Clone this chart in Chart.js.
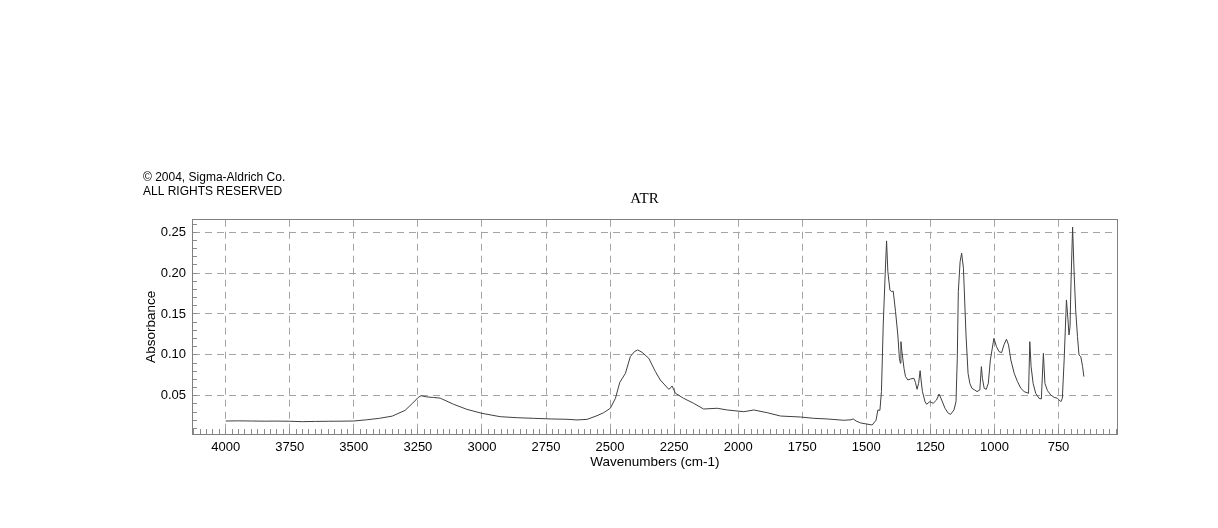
<!DOCTYPE html>
<html>
<head>
<meta charset="utf-8">
<title>ATR spectrum</title>
<script src="https://cdn.jsdelivr.net/npm/chart.js@4/dist/chart.umd.min.js"></script>
<style>
  html, body { margin: 0; padding: 0; background: #fff; }
  canvas { display: block; }
</style>
</head>
<body>
<canvas id="spec" width="1218" height="528"></canvas>
<script>
// spectrum (cm-1 / absorbance)
const wavenumbers = [
  4000, 3950, 3900, 3850, 3800, 3750, 3700, 3650, 3600, 3550, 3500, 3450, 3400, 3350, 3300, 3270,
  3250, 3238, 3215, 3189, 3163, 3111, 3059, 3000, 2929, 2860, 2798, 2730, 2668, 2629, 2590, 2551,
  2525, 2499, 2479, 2462, 2440, 2421, 2405, 2392, 2375, 2349, 2323, 2304, 2271, 2262, 2258, 2245,
  2213, 2174, 2135, 2082, 2043, 1978, 1939, 1887, 1835, 1757, 1705, 1653, 1588, 1560, 1551, 1540,
  1522, 1477, 1462, 1455, 1447, 1441, 1434, 1425, 1421, 1416, 1408, 1402, 1395, 1386, 1377, 1371,
  1367, 1365, 1361, 1353, 1347, 1338, 1327, 1314, 1308, 1302, 1296, 1290, 1286, 1281, 1271, 1265,
  1252, 1239, 1226, 1216, 1206, 1193, 1180, 1171, 1158, 1150, 1145, 1141, 1134, 1128, 1121, 1111,
  1103, 1096, 1088, 1077, 1068, 1057, 1051, 1047, 1040, 1032, 1024, 1016, 1002, 992, 982, 972,
  963, 953, 945, 936, 923, 910, 897, 884, 867, 862, 857, 849, 839, 826, 817, 809,
  803, 793, 780, 767, 754, 741, 735, 728, 719, 713, 709, 705, 701, 695, 689, 683,
  676, 670, 663, 656, 651
];
const absorbance = [
  0.0190, 0.0192, 0.0190, 0.0188, 0.0189, 0.0187, 0.0182, 0.0185, 0.0187, 0.0188, 0.0190, 0.0205, 0.0223, 0.0250, 0.0320, 0.0410,
  0.0475, 0.0500, 0.0485, 0.0478, 0.0470, 0.0395, 0.0333, 0.0284, 0.0243, 0.0230, 0.0223, 0.0215, 0.0211, 0.0203, 0.0210, 0.0255,
  0.0292, 0.0346, 0.0468, 0.0664, 0.0774, 0.0978, 0.1039, 0.1060, 0.1031, 0.0958, 0.0794, 0.0692, 0.0578, 0.0600, 0.0619, 0.0530,
  0.0468, 0.0407, 0.0337, 0.0346, 0.0325, 0.0304, 0.0325, 0.0292, 0.0251, 0.0239, 0.0223, 0.0215, 0.0199, 0.0205, 0.0215, 0.0190,
  0.0166, 0.0141, 0.0200, 0.0325, 0.0320, 0.0550, 0.1366, 0.2100, 0.2395, 0.2019, 0.1794, 0.1774, 0.1780, 0.1529, 0.1243, 0.0958,
  0.0897, 0.1161, 0.1039, 0.0835, 0.0733, 0.0692, 0.0705, 0.0713, 0.0660, 0.0578, 0.0650, 0.0806, 0.0680, 0.0550, 0.0427, 0.0395,
  0.0427, 0.0407, 0.0447, 0.0520, 0.0447, 0.0346, 0.0284, 0.0272, 0.0325, 0.0427, 0.0958, 0.1774, 0.2140, 0.2244, 0.2060, 0.1243,
  0.0774, 0.0650, 0.0590, 0.0570, 0.0550, 0.0570, 0.0856, 0.0713, 0.0590, 0.0578, 0.0650, 0.0937, 0.1203, 0.1100, 0.1039, 0.1027,
  0.1121, 0.1191, 0.1121, 0.0937, 0.0774, 0.0672, 0.0590, 0.0550, 0.0529, 0.1161, 0.0856, 0.0650, 0.0529, 0.0468, 0.0460, 0.1019,
  0.0650, 0.0561, 0.0508, 0.0480, 0.0468, 0.0427, 0.0468, 0.0937, 0.1672, 0.1427, 0.1243, 0.1345, 0.1917, 0.2563, 0.2000, 0.1550,
  0.1223, 0.0998, 0.0978, 0.0856, 0.0733
];

// axis ranges and tick steps
const xRange = [519, 4131.5];
const yRange = [0.0031, 0.2654];
const xMinorStep = 25, xMajorStep = 250;
const yMinorStep = 0.01, yMajorStep = 0.05;

const sans = 'Liberation Sans, Arial, Helvetica, sans-serif';
const serif = 'Liberation Serif, Times New Roman, serif';
const isMajorX = v => Math.round(v) % xMajorStep === 0;
const isMajorY = v => Math.round(v / yMinorStep) % Math.round(yMajorStep / yMinorStep) === 0;

const points = wavenumbers.map((w, i) => ({ x: w, y: absorbance[i] }));

new Chart(document.getElementById('spec'), {
    type: 'line',
    data: {
        datasets: [{
            label: 'ATR',
            data: points,
            borderColor: '#404040',
            borderWidth: 1,
            pointRadius: 0,
            tension: 0,
            fill: false
        }]
    },
    options: {
        responsive: false,
        animation: false,
        devicePixelRatio: 1,
        layout: { padding: { left: 143, right: 72, top: 171, bottom: 58 } },
        scales: {
            x: {
                type: 'linear', position: 'bottom', reverse: true,
                min: xRange[0], max: xRange[1],
                afterFit: s => { s.height = 36; },
                border: { display: true, color: '#808080', width: 1, dash: [7, 5] },
                grid: {
                    color: c => (c.tick && isMajorX(c.tick.value)) ? '#a4a4a4' : 'rgba(0,0,0,0)',
                    lineWidth: 1,
                    drawTicks: true, tickLength: -5, tickColor: '#8c8c8c', tickWidth: 1
                },
                ticks: {
                    stepSize: xMinorStep, includeBounds: false, autoSkip: false, maxRotation: 0,
                    padding: 11, color: '#000', font: { family: sans, size: 13 },
                    callback: v => isMajorX(v) ? String(v) : ''
                },
                title: { display: true, text: 'Wavenumbers (cm-1)', color: '#000', padding: 0,
                         font: { family: sans, size: 13.5 } }
            },
            y: {
                type: 'linear', position: 'left',
                min: yRange[0], max: yRange[1],
                afterFit: s => { s.width = 49; },
                border: { display: true, color: '#808080', width: 1, dash: [7, 5] },
                grid: {
                    color: c => (c.tick && isMajorY(c.tick.value)) ? '#a4a4a4' : 'rgba(0,0,0,0)',
                    lineWidth: 1,
                    drawTicks: true, tickLength: -5, tickColor: '#8c8c8c', tickWidth: 1
                },
                ticks: {
                    stepSize: yMinorStep, includeBounds: false, autoSkip: false,
                    padding: 11, color: '#000', font: { family: sans, size: 13 },
                    callback: v => isMajorY(v) ? v.toFixed(2) : ''
                },
                title: { display: true, text: 'Absorbance', color: '#000', padding: 0,
                         font: { family: sans, size: 13.5 } }
            },
            // top and right frame lines only
            x2: {
                type: 'linear', position: 'top', min: 0, max: 1,
                afterFit: s => { s.height = 0; },
                ticks: { display: false },
                grid: { drawOnChartArea: false, drawTicks: false },
                border: { display: true, color: '#808080', width: 1 }
            },
            y2: {
                type: 'linear', position: 'right', min: 0, max: 1,
                afterFit: s => { s.width = 28.3; },
                ticks: { display: false },
                grid: { drawOnChartArea: false, drawTicks: false },
                border: { display: true, color: '#808080', width: 1 }
            }
        },
        plugins: {
            legend: { display: false },
            tooltip: { enabled: false },
            title: {
                display: true,
                text: ['\u00A9 2004, Sigma-Aldrich Co.', 'ALL RIGHTS RESERVED'],
                align: 'start', fullSize: true, color: '#000',
                font: { family: sans, size: 12, weight: 'normal', lineHeight: 1.142 },
                padding: { top: 0, bottom: -11.9 }
            },
            subtitle: {
                display: true, text: 'ATR', align: 'center', fullSize: true, color: '#000',
                font: { family: serif, size: 15, weight: 'normal', lineHeight: 1 },
                padding: { top: 4.8, bottom: 13.4 }
            }
        }
    }
});
</script>
</body>
</html>
